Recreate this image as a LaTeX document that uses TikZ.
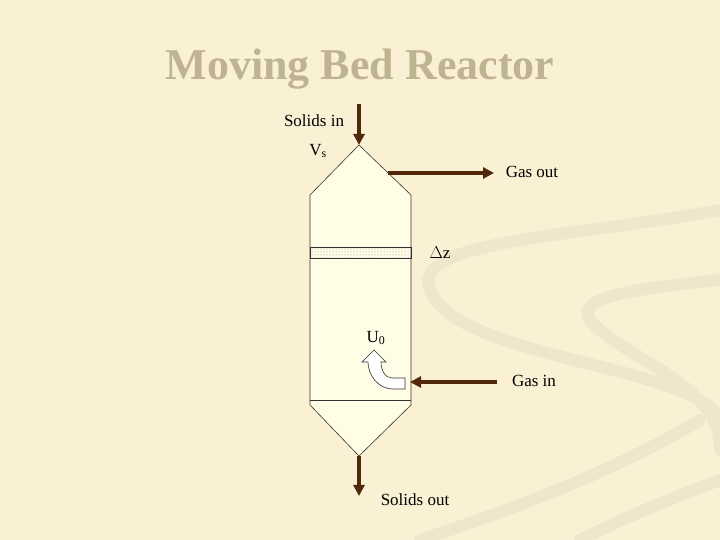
\documentclass[tikz,border=0pt]{standalone}
\usepackage{fontspec}
\setmainfont{Liberation Serif}
\usetikzlibrary{patterns,arrows.meta}
\definecolor{bg}{RGB}{250,240,212}
\definecolor{vessel}{RGB}{255,253,230}
\definecolor{arr}{RGB}{80,40,10}
\definecolor{ttl}{RGB}{190,180,145}
\definecolor{swirl}{RGB}{240,230,203}
\begin{document}
\begin{tikzpicture}[x=1pt,y=1pt,
  lbl/.style={font=\fontsize{17}{19}\selectfont, inner sep=0pt},
  flow/.style={line width=3.5pt, draw=arr, -{Triangle[length=11pt,width=11pt]}},
  wall/.style={draw=black!80, line width=0.6pt}]
\fill[bg] (0,0) rectangle (720,540);
\useasboundingbox (0,0) rectangle (720,540);
% faint background swirls
\begin{scope}[swirl, line width=12pt, line cap=round]
\draw (720,330) .. controls (560,300) and (380,300) .. (440,235) .. controls (490,180) and (700,170) .. (720,120);
\draw (720,260) .. controls (620,250) and (560,240) .. (600,210) .. controls (650,170) and (720,150) .. (720,90);
\draw (700,120) .. controls (600,60) and (480,20) .. (420,0);
\draw (720,60) .. controls (640,30) and (600,10) .. (580,0);
\end{scope}
\node[font=\bfseries\fontsize{44}{48}\selectfont, text=ttl] (title) at (360,471) {Moving Bed Reactor};
% vessel
\filldraw[wall, fill=vessel] (359,395) -- (411,345) -- (411,135) -- (359,84) -- (310,135) -- (310,345) -- cycle;
\draw[wall] (310,140) -- (411,140);
\filldraw[wall, pattern=dots, pattern color=black!40] (310,282) rectangle (411,293);
\coordinate (top) at (359,395);
\coordinate (bot) at (359,84);
\coordinate (sin) at (359,436);
\coordinate (sout) at (359,44);
\coordinate (go1) at (388,367);
\coordinate (go2) at (494,367);
\coordinate (gi1) at (497,158);
\coordinate (gi2) at (410,158);
\draw[flow] (sin) -- (top);
\draw[flow] (bot) -- (sout);
\draw[flow] (go1) -- (go2);
\draw[flow] (gi1) -- (gi2);
% hollow curved arrow
\filldraw[draw=black!80, fill=white, line width=0.6pt] (405,162) -- (392,162) .. controls (385,162) and (381,170) .. (381,178) -- (386,178) -- (374,190) -- (362,178) -- (368,178) .. controls (368,165) and (378,151) .. (393,151) -- (405,151) -- cycle;
\node[lbl] (l1) at (314,419) {Solids in};
\node[lbl] (l2) at (318,389) {V\textsubscript{s}};
\node[lbl] (l3) at (532,368) {Gas out};
\node[lbl] (l4) at (440,287) {$\Delta$z};
\node[lbl] (l5) at (376,202) {U\textsubscript{0}};
\node[lbl] (l6) at (534,159) {Gas in};
\node[lbl] (l7) at (415,40) {Solids out};
\end{tikzpicture}
\end{document}
